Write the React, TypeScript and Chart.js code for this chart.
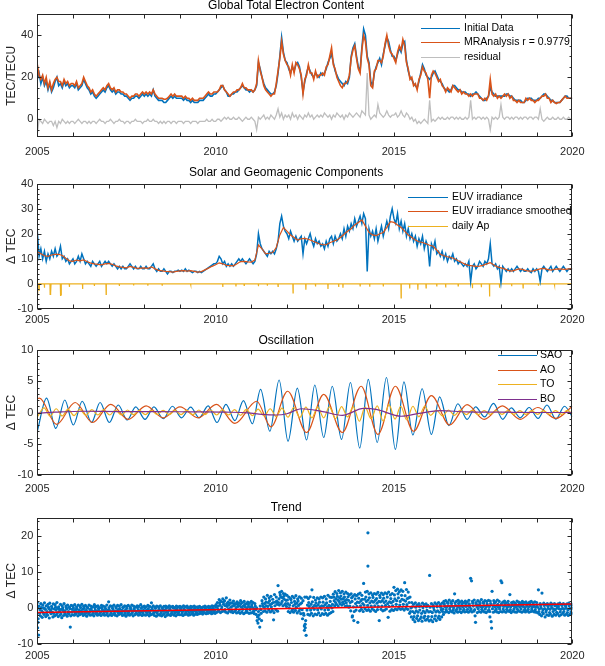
import React, { useEffect, useRef } from 'react';
import { Chart, registerables } from 'chart.js';

Chart.register(...registerables);

const FONT = '"Liberation Sans", Arial, Helvetica, sans-serif';
const BLUE = '#0072BD';
const ORANGE = '#D95319';
const YELLOW = '#EDB120';
const PURPLE = '#7E2F8E';
const GRAY = '#BEBEBE';
const RED = '#FF0000';
const AXIS = '#262626';

const START_YEAR = 2005;
const END_YEAR = 2020;
const yearTicks = [2005, 2006, 2007, 2008, 2009, 2010, 2011, 2012, 2013, 2014, 2015, 2016, 2017, 2018, 2019, 2020];

// ---------- Panel 1: Global Total Electron Content (samples every 0.05 yr) ----------
const tecInitial = [
  19, 22, 17, 20, 16, 18, 14, 17, 13, 15, 18, 20, 16, 17, 15, 18, 16, 17, 15, 16,
  16, 15, 17, 14, 15, 16, 19, 17, 15, 14, 12, 13, 11, 10, 11, 12, 13, 14, 13, 15,
  16, 14, 13, 14, 12, 13, 13, 12, 12, 11, 11, 10, 9, 10, 10, 11, 11, 10, 11, 12,
  11, 12, 11, 12, 11, 14, 11, 10, 9, 9, 9, 8, 8, 9, 10, 11, 10, 11, 10, 10,
  10, 10, 9, 10, 9, 9, 8, 9, 8, 8, 8, 9, 9, 9, 10, 11, 12, 11, 11, 12,
  12, 13, 14, 15, 16, 14, 13, 11, 11, 12, 12, 13, 13, 14, 15, 16, 15, 14, 14, 13,
  14, 13, 14, 16, 27, 24, 20, 17, 15, 14, 13, 12, 12, 13, 16, 22, 30, 39, 32, 28,
  27, 24, 22, 25, 23, 26, 27, 25, 20, 13, 18, 22, 25, 23, 21, 20, 22, 21, 20, 22,
  21, 22, 24, 27, 29, 31, 27, 23, 21, 19, 18, 17, 16, 18, 17, 20, 30, 34, 36, 30,
  25, 23, 34, 43, 40, 30, 27, 18, 16, 22, 25, 27, 29, 26, 31, 35, 39, 37, 33, 30,
  30, 28, 31, 34, 32, 36, 37, 28, 23, 20, 19, 17, 16, 15, 18, 22, 26, 24, 21, 20,
  19, 20, 22, 23, 21, 19, 18, 17, 15, 14, 14, 13, 14, 16, 16, 15, 14, 14, 13, 13,
  13, 12, 12, 11, 12, 12, 13, 12, 11, 10, 9, 9, 10, 11, 15, 13, 12, 11, 11, 11,
  11, 11, 11, 12, 12, 11, 11, 10, 9, 9, 9, 9, 8, 8, 9, 10, 10, 10, 9, 9,
  9, 10, 10, 11, 12, 12, 11, 10, 9, 9, 8, 8, 8, 8, 9, 10, 11, 11, 10, 10,
  10,
];
const tecMra = [
  26, 21, 19, 21, 17, 20, 15, 18, 14, 17, 19, 20, 18, 18, 16, 19, 17, 18, 16, 17,
  17, 16, 18, 15, 16, 17, 20, 18, 16, 15, 13, 14, 12, 11, 12, 13, 14, 15, 14, 16,
  17, 15, 14, 15, 13, 14, 14, 13, 13, 12, 12, 11, 10, 11, 11, 12, 12, 11, 12, 13,
  12, 13, 12, 13, 12, 14, 12, 11, 10, 10, 10, 9.5, 9.5, 10, 11, 12, 11, 12, 11, 11,
  11, 11, 10, 11, 10, 10, 9, 10, 9, 9, 9, 10, 10, 10, 11, 12, 13, 12, 12, 13,
  13, 13, 14, 16, 16, 14, 13, 12, 11, 12, 13, 13, 14, 14, 15, 17, 15, 15, 14, 14,
  14, 13, 14, 17, 28, 23, 20, 16, 14, 13, 12, 11, 12, 12, 17, 23, 29, 37, 31, 28,
  26, 25, 21, 26, 22, 27, 26, 24, 21, 12, 19, 21, 26, 22, 22, 19, 23, 20, 21, 21,
  22, 21, 25, 26, 30, 34, 26, 24, 20, 18, 16, 15, 17, 17, 18, 21, 29, 33, 35, 29,
  24, 22, 33, 40, 37, 29, 26, 16, 15, 23, 24, 28, 28, 27, 30, 36, 40, 35, 32, 31,
  29, 27, 32, 35, 33, 38, 35, 27, 24, 19, 20, 16, 17, 14, 19, 21, 25, 23, 22, 19,
  10, 21, 23, 22, 20, 18, 19, 16, 15, 13, 15, 14, 13, 16, 15, 14, 13, 14, 12, 13,
  12, 12, 11, 12, 11, 12, 12, 12, 10, 10, 9, 10, 9, 11, 19, 12, 11, 12, 10, 11,
  10, 11, 12, 11, 12, 10, 11, 9, 9, 8, 9, 8, 8, 8, 10, 9, 10, 9, 9, 8,
  9, 9, 10, 11, 11, 12, 10, 10, 8, 9, 8, 7.5, 8, 8, 9, 10, 11, 10, 10, 10,
  10,
];
const tecResidual = [
  -7, 0, -1, -2, 0, -1, -2, -1, -1, -3, -1, -4, -1, -2, 0, -1, -2, -1, -2, -1,
  -1, -2, -1, 0, -1, -2, -1, -1, -2, -1, -2, -1, -1, -2, -1, 0, -1, -1, -2, -1,
  -1, 0, -1, -2, -1, -1, 0, -1, -1, -2, -1, -1, -2, -1, -1, 0, -1, -1, -1, -2,
  -1, -1, 0, -1, -1, 0, -1, -1, -2, -1, -2, -1, -2, -1, -1, -2, -1, -1, -2, -1,
  -1, -1, -2, -1, -1, -1, -2, -1, -1, -1, -2, -1, -1, -1, -1, 0, -1, -1, 0, -1,
  -1, 0, 0, -1, 0, 1, 0, 1, 0, 0, 1, 0, 0, 1, 0, -1, 0, 1, 0, 0,
  1, 0, -1, -5, 1, 0, 1, 2, 0, 1, 0, 2, 1, 0, 2, 5, 1, 3, 0, 2,
  1, 2, 0, 3, 1, 2, 0, 2, 1, 0, 2, 1, 3, 1, 2, 0, 1, 2, 1, 2,
  1, 3, 2, 1, 2, 0, 2, 1, 3, 2, 1, 2, 0, 2, 1, 3, 2, 1, 2, 3,
  2, 1, 4, 3, 2, 22, 2, 0, 1, 2, 1, 7, 3, 2, 1, 2, 4, 2, 1, 2,
  2, 3, 1, 2, 4, 2, 1, 3, 2, 0, 1, -1, 0, -2, -1, -2, -1, 0, -1, -2,
  9, -1, 0, -1, 0, 1, 0, 1, 0, 0, 1, 0, 1, 1, 0, 1, 0, 1, 0, 0,
  1, 0, 1, 9, 0, 1, 0, 1, 1, 0, 1, 0, 1, 0, -5, 1, 0, 1, 0, 1,
  7, 1, 0, 1, 1, 0, 1, 0, 1, 1, 0, 1, 0, 1, 1, 0, 1, 1, 0, 1,
  1, 0, 5, 0, -1, 0, 1, 0, 0, 1, 0, 0, 1, 0, 0, 1, 0, 0, 1, 0,
  0,
];

// ---------- Panel 2: Solar and Geomagnetic components ----------
const euvIrradiance = [
  21, 11, 14, 10, 13, 9, 12, 10, 13, 11, 14, 11, 12, 15, 10, 11, 9, 10, 8, 9,
  10, 8, 9, 11, 9, 12, 10, 8, 9, 8, 7, 9, 8, 7, 8, 9, 7, 8, 9, 8,
  9, 8, 7, 8, 7, 6, 7, 6, 7, 6, 6, 7, 8, 7, 6, 7, 6, 6, 7, 6,
  6, 7, 6, 6, 7, 8, 6, 5, 6, 5, 5, 6, 5, 4, 5, 5, 4.5, 5, 5, 5.5,
  5, 5.5, 5, 6, 5, 5.5, 5, 4.5, 5, 5, 4.5, 5, 4.5, 5, 5.5, 6, 6.5, 7, 7.5, 8,
  8, 9, 11, 10, 8, 9, 7, 8, 7, 8, 7, 8, 9, 10, 9, 10, 9, 8, 9, 10,
  9, 8, 9, 12, 20, 16, 14, 13, 12, 11, 13, 12, 13, 12, 14, 17, 24, 27, 23, 21,
  20, 18, 21, 19, 17, 19, 17, 18, 19, 12, 18, 16, 18, 20, 17, 15, 18, 16, 17, 15,
  16, 14, 17, 15, 18, 19, 16, 19, 17, 18, 20, 18, 22, 19, 23, 21, 24, 22, 26, 23,
  25, 27, 24, 28, 26, 5, 22, 19, 21, 18, 22, 17, 20, 23, 19, 22, 25, 22, 27, 30,
  26, 24, 28, 22, 25, 21, 24, 19, 22, 18, 20, 17, 19, 15, 18, 16, 19, 14, 17, 15,
  7, 16, 14, 17, 12, 13, 11, 13, 10, 12, 9, 11, 10, 12, 9, 10, 8, 9, 8, 7,
  8, 7, 9, 1, 7, 8, 6, 7, 9, 8, 7, 9, 8, 10, 16, 8, 7, 8, 6, 7,
  0.5, 7, 6, 5, 6, 5, 6, 5, 6, 7, 6, 5, 6, 5, 5, 6, 5, 4.5, 6, 5,
  6, 5, 1, 6, 7, 6, 5, 6, 7, 5, 6, 7, 6, 5, 6, 7, 6, 5, 6, 6,
  6,
];
// smoothed EUV, every 0.1 yr
const euvSmoothed = [
  12.8, 12.0, 11.2, 11.0, 11.5, 11.8, 11.8, 11.3, 10.2, 9.2,
  9.0, 9.5, 9.2, 9.6, 8.8, 8.3, 8.0, 7.8, 7.6, 8.0,
  8.2, 7.8, 7.2, 6.8, 6.6, 6.4, 7.0, 6.6, 6.2, 6.3,
  6.4, 6.2, 6.8, 6.0, 5.4, 5.2, 5.0, 4.9, 4.7, 5.0,
  5.2, 5.3, 5.1, 5.3, 5.0, 4.7, 4.9, 5.6, 6.3, 7.0,
  7.6, 8.4, 8.0, 7.4, 7.3, 7.2, 8.0, 8.9, 9.0, 8.8,
  8.7, 9.5, 15.5, 14.0, 12.0, 12.2, 12.5, 14.5, 19.5, 22.5,
  21.0, 19.5, 18.5, 17.5, 18.0, 18.1, 17.8, 17.2, 16.6, 16.0,
  15.6, 15.6, 16.4, 17.0, 17.5, 18.5, 19.8, 21.0, 22.0, 23.5,
  24.5, 25.5, 23.0, 20.5, 19.5, 19.2, 20.0, 20.5, 22.5, 24.8,
  24.5, 23.5, 22.5, 21.0, 19.5, 18.5, 17.5, 16.8, 16.5, 16.0,
  15.4, 15.0, 13.5, 11.8, 11.2, 10.8, 10.5, 10.0, 9.2, 8.5,
  7.8, 7.4, 7.2, 7.0, 7.1, 7.4, 8.0, 8.5, 7.5, 6.8,
  6.4, 6.0, 5.4, 5.1, 5.5, 6.0, 5.8, 5.3, 5.1, 5.2,
  5.6, 6.0, 6.2, 5.8, 5.5, 5.8, 6.0, 5.9, 5.8, 6.0,
  6.0,
];
const apSpikeYears = [
  2005.01, 2005.05, 2005.2, 2005.36, 2005.38, 2005.65, 2005.67, 2005.9, 2006.27, 2006.6,
  2006.93, 2007.3, 2007.7, 2008.1, 2008.5, 2009.3, 2010.2, 2010.57, 2010.8, 2011.2,
  2011.45, 2011.75, 2012.17, 2012.53, 2012.8, 2013.15, 2013.45, 2013.57, 2014.05, 2014.32,
  2014.7, 2015.2, 2015.44, 2015.67, 2015.9, 2016.2, 2016.45, 2016.8, 2017.2, 2017.45,
  2017.68, 2017.96, 2018.3, 2018.62, 2019.05, 2019.5,
];
const apSpikeValues = [
  -4.5, -2.5, -1.5, -4.2, -3.5, -4.8, -4.6, -1.2, -2.0, -0.8,
  -4.2, -0.8, -0.6, -0.7, -0.5, -0.4, -1.2, -1.0, -0.6, -0.9,
  -0.7, -1.0, -3.6, -2.3, -1.0, -2.0, -1.2, -1.5, -0.8, -1.1,
  -1.0, -5.6, -1.8, -2.3, -1.6, -1.0, -1.4, -0.8, -1.7, -1.3,
  -5.0, -1.5, -0.9, -1.6, -0.7, -0.5,
];

// ---------- Panel 3: Oscillation (extrema of each component) ----------
const saoYears = [
  2005.00, 2005.26, 2005.52, 2005.77, 2006.01, 2006.26, 2006.52, 2006.76, 2007.02, 2007.27,
  2007.52, 2007.76, 2008.02, 2008.27, 2008.53, 2008.79, 2009.04, 2009.30, 2009.54, 2009.79,
  2010.04, 2010.29, 2010.54, 2010.78, 2011.03, 2011.26, 2011.52, 2011.78, 2012.03, 2012.29,
  2012.55, 2012.78, 2013.03, 2013.27, 2013.53, 2013.78, 2014.04, 2014.28, 2014.53, 2014.79,
  2015.04, 2015.28, 2015.53, 2015.79, 2016.05, 2016.28, 2016.54, 2016.79, 2017.05, 2017.29,
  2017.54, 2017.79, 2018.05, 2018.29, 2018.54, 2018.79, 2019.04, 2019.29, 2019.54, 2019.78,
  2020.00,
];
const saoValues = [
  -3.0, 2.3, -2.55, 2.0, -2.0, 1.8, -1.6, 1.6, -1.6, 1.2,
  -1.2, 0.9, -1.1, 0.9, -1.0, 1.0, -0.85, 0.85, -0.85, 1.06,
  -1.6, 1.3, -1.3, 1.9, -1.8, 3.7, -3.0, 5.2, -4.6, 3.9,
  -4.4, 4.4, -4.0, 4.2, -4.3, 4.8, -5.7, 5.3, -4.8, 5.6,
  -5.9, 4.9, -3.6, 3.8, -3.5, 2.5, -2.1, 1.4, -1.1, 0.9,
  -0.7, 1.45, -1.1, 0.75, -0.85, 0.8, -0.95, 1.2, -1.06, 1.0,
  -0.7,
];
const aoYears = [
  2005.00, 2005.06, 2005.54, 2006.06, 2006.55, 2007.06, 2007.55, 2008.05, 2008.53, 2009.00,
  2009.51, 2010.02, 2010.54, 2011.15, 2011.55, 2012.02, 2012.55, 2013.03, 2013.55, 2014.08,
  2014.55, 2015.04, 2015.55, 2016.05, 2016.56, 2017.05, 2017.53, 2018.04, 2018.54, 2019.03,
  2019.54, 2020.00,
];
const aoValues = [
  2.2, 2.3, -1.9, 1.6, -1.6, 1.3, -1.1, 1.06, -0.85, 0.9,
  -0.85, 1.3, -1.75, 1.8, -2.3, 3.4, -3.2, 2.9, -3.2, 4.2,
  -3.5, 4.2, -3.0, 2.7, -2.0, 1.25, -1.1, 1.05, -1.1, 0.8,
  -0.95, 1.0,
];
const toYears = [
  2005.00, 2005.19, 2005.36, 2005.53, 2005.70, 2005.86,
  2006.03, 2006.19, 2006.36, 2006.53, 2006.70, 2006.86,
  2007.03, 2007.19, 2007.36, 2007.53, 2007.70, 2007.86,
  2008.03, 2008.19, 2008.36, 2008.53, 2008.70, 2008.86,
  2009.03, 2009.19, 2009.36, 2009.53, 2009.70, 2009.86,
  2010.03, 2010.19, 2010.36, 2010.53, 2010.70, 2010.86,
  2011.03, 2011.19, 2011.36, 2011.53, 2011.70, 2011.86,
  2012.03, 2012.19, 2012.36, 2012.53, 2012.70, 2012.86,
  2013.03, 2013.19, 2013.36, 2013.53, 2013.70, 2013.86,
  2014.03, 2014.19, 2014.36, 2014.53, 2014.70, 2014.86,
  2015.03, 2015.19, 2015.36, 2015.53, 2015.70, 2015.86,
  2016.03, 2016.19, 2016.36, 2016.53, 2016.70, 2016.86,
  2017.03, 2017.19, 2017.36, 2017.53, 2017.70, 2017.86,
  2018.03, 2018.19, 2018.36, 2018.53, 2018.70, 2018.86,
  2019.03, 2019.19, 2019.36, 2019.53, 2019.70, 2019.86,
  2020.00,
];
const toValues = [
  -0.7, 0.75, -0.6, 0.6, -0.55, 0.55,
  -0.5, 0.5, -0.45, 0.45, -0.4, 0.45,
  -0.4, 0.4, -0.4, 0.4, -0.35, 0.35,
  -0.35, 0.35, -0.3, 0.35, -0.35, 0.35,
  -0.35, 0.35, -0.35, 0.4, -0.35, 0.4,
  -0.4, 0.45, -0.4, 0.45, -0.45, 0.5,
  -0.5, 0.55, -0.55, 0.6, -0.65, 0.7,
  -0.75, 0.8, -0.8, 0.85, -0.85, 0.9,
  -0.85, 0.9, -1.0, 0.95, -0.7, 0.95,
  -1.4, 0.85, -1.0, 1.05, -1.4, 1.25,
  -1.05, 1.0, -1.2, 1.0, -0.7, 1.0,
  -0.45, 0.4, -0.55, 0.4, -0.45, 0.4,
  -0.35, 0.35, -0.35, 0.3, -0.3, 0.3,
  -0.3, 0.3, -0.3, 0.3, -0.3, 0.3,
  -0.3, 0.3, -0.3, 0.3, -0.3, 0.35,
  -0.2,
];
const boYears = [
  2005.0, 2005.5, 2006.3, 2007.3, 2008.3, 2009.3, 2010.3, 2010.9, 2011.3, 2011.7,
  2012.0, 2012.4, 2013.0, 2013.55, 2014.15, 2014.5, 2015.2, 2015.7, 2016.3, 2017.0,
  2018.0, 2019.0, 2020.0,
];
const boValues = [
  -0.1, 0.05, 0.2, 0.15, 0.15, 0.1, 0.05, -0.05, -0.3, -0.4,
  -0.2, 0.6, 0.15, -0.45, 0.65, 0.5, -0.6, -0.15, 0.3, 0.1,
  0.05, 0.0, 0.0,
];

// ---------- Panel 4: Trend (four daily samples per 0.05-yr bin) ----------
const trendUpper = [
  1.5, 0.5, 1.2, 0.8, 1.4, 0.6, 1.0, 1.3, 0.4, 1.1, 0.9, 1.5, 0.3, 1.0, 0.6, 1.2, 0.5, 0.8, 0.2, 0.7,
  0.6, 0.9, 0.3, 0.8, 0.5, 1.0, 0.4, 0.7, 0.2, 0.8, 0.5, 0.3, 0.9, 0.4, 0.6, 0.1, 0.7, 0.5, 0.3, 0.8,
  1.7, 0.6, 0.4, 0.8, 0.3, 0.7, 0.5, 0.9, 0.2, 0.6, 0.4, 0.7, 0.3, 0.8, 0.5, 0.2, 0.6, 0.4, 0.9, 0.3,
  0.5, 0.3, 0.7, 0.4, 1.4, 0.6, 0.2, 0.5, 0.3, 0.6, 0.1, 0.4, 0.5, 0.2, 0.6, 0.3, 0.4, 0.1, 0.5, 0.3,
  0.4, 0.2, 0.6, 0.3, 0.5, 0.1, 0.4, 0.3, 0.5, 0.2, 0.3, 0.4, 0.1, 0.3, 0.5, 0.2, 0.4, 0.3, 0.6, 0.4,
  0.6, 1.5, 2.3, 1.8, 2.5, 2.0, 2.8, 1.6, 2.2, 1.4, 1.9, 1.2, 1.7, 1.3, 2.0, 1.5, 1.8, 1.1, 1.6, 1.4,
  1.8, 1.5, 1.2, 0.0, -1.0, 0.5, 2.0, 3.0, 2.5, 3.5, 2.8, 3.2, 2.4, 3.7, 3.0, 6.2, 4.3, 4.6, 4.0, 3.8,
  3.5, 3.0, 2.6, 3.2, 2.8, 3.4, 2.5, 3.1, 2.7, 2.0, 3.0, 3.0, 2.6, 3.1, 5.0, 2.9, 2.2, 2.8, 2.5, 3.0,
  2.8, 3.2, 2.5, 3.5, 3.0, 2.9, 3.8, 4.5, 4.0, 4.8, 4.2, 4.6, 3.9, 4.4, 4.0, 3.6, 3.9, 3.2, 3.7, 3.4,
  3.8, 4.1, 3.5, 6.8, 4.4, 4.6, 3.9, 4.2, 3.6, 4.0, 3.8, 4.3, 3.5, 4.1, 3.7, 4.2, 3.9, 4.4, 3.6, 4.0,
  5.7, 4.8, 5.2, 4.5, 5.0, 4.6, 7.0, 5.1, 4.4, 3.0, 1.5, 1.0, 1.4, 0.8, 1.2, 0.6, 1.3, 0.9, 1.1, 0.7,
  9.0, 1.2, 0.8, 1.4, 1.0, 1.5, 0.9, 1.3, 1.8, 2.0, 1.6, 2.2, 1.7, 2.0, 3.9, 1.8, 2.1, 1.6, 1.9, 1.5,
  1.9, 1.6, 2.1, 8.2, 1.8, 2.2, 1.5, 2.0, 1.7, 2.3, 1.6, 2.0, 1.8, 2.1, 1.9, 4.6, 2.0, 1.7, 2.2, 1.8,
  7.5, 1.6, 1.9, 1.4, 1.8, 3.7, 1.5, 1.7, 1.3, 1.9, 1.6, 1.4, 1.8, 1.5, 1.7, 1.2, 1.6, 1.8, 1.4, 1.7,
  1.5, 5.0, 1.2, 4.1, 1.3, 0.9, 1.2, 0.8, 1.3, 1.0, 1.2, 0.7, 1.1, 1.3, 0.9, 1.2, 0.8, 1.1, 1.3, 1.0,
  1.0,
];
const trendMiddle = [
  -3.0, -0.5, -0.8, 0.0, -0.4, -1.0, -0.2, -0.7, -1.2, -0.3, -0.6, -0.1, -0.9, -0.4, -0.7, -0.8, -0.3, -1.0, -5.3, -0.4,
  -0.8, -0.5, -1.1, -0.6, -0.9, -0.4, -1.0, -0.7, -1.2, -0.5, -0.8, -1.0, -0.6, -0.9, -0.7, -1.1, -0.5, -0.8, -1.0, -0.6,
  -0.7, -1.0, -0.6, -0.9, -0.8, -0.5, -1.1, -0.7, -0.9, -0.6, -1.0, -0.8, -0.5, -0.9, -0.7, -1.0, -0.6, -0.8, -1.1, -0.7,
  -0.8, -0.6, -1.0, -0.7, -0.5, -0.9, -1.1, -0.8, -0.6, -1.0, -0.9, -0.7, -1.2, -0.8, -0.6, -1.0, -0.9, -0.7, -1.1, -0.8,
  -0.7, -0.9, -0.6, -1.0, -0.8, -0.5, -0.9, -0.7, -0.8, -0.6, -0.7, -0.5, -0.8, -0.6, -0.5, -0.7, -0.6, -0.4, -0.7, -0.5,
  0.2, 0.5, 0.8, 0.3, 1.0, 0.6, 0.4, 0.9, 0.2, 0.5, 0.7, 0.1, 0.4, 0.6, 0.2, 0.5, 0.3, 0.0, 0.4, 0.2,
  0.2, -0.2, -0.5, -2.5, -3.0, -1.5, 0.5, 1.2, 0.6, 1.5, 0.9, 1.2, -3.3, 1.6, 1.0, 2.5, 3.0, 2.8, 2.4, 2.1,
  1.2, 0.8, 1.5, 0.6, 1.0, 1.3, 0.7, 1.1, -0.5, -2.0, -3.5, 0.8, 0.4, 1.0, 0.2, 0.7, 0.5, 0.9, 0.3, 0.6,
  0.5, 0.9, 0.2, 0.7, 0.4, 1.0, 2.0, 2.6, 2.2, 2.8, 2.4, 2.6, 2.0, 2.3, 2.1, 1.5, 1.8, -3.5, 1.2, 1.6,
  1.5, 2.0, 1.2, 2.4, 1.8, 2.2, 1.4, 1.9, 1.6, 2.1, 1.3, 1.8, 1.7, 2.0, 1.5, 1.9, 1.2, 1.7, 1.4, 1.8,
  2.5, 2.0, 2.8, 1.8, 2.4, 2.2, 1.9, 2.6, 1.5, 0.0, -1.0, -1.4, -0.8, -1.2, -0.6, -1.5, -0.9, -1.3, -0.7, -1.1,
  -1.0, -1.3, -0.6, -1.1, -0.8, -1.2, -0.5, -0.3, 0.4, 0.2, 0.6, 0.3, 0.5, 0.1, 0.7, 0.4, 0.2, 0.6, 0.3, 0.5,
  0.4, 0.6, 0.2, 7.5, 0.5, -2.2, 0.3, 0.7, 0.4, 0.2, 0.6, 0.3, 0.5, 0.4, -3.8, 0.6, 0.3, 0.5, 0.2, 0.4,
  7.0, 0.4, 0.6, 0.2, 0.5, 0.3, 0.7, 0.4, 0.2, 0.6, 0.3, 0.5, 0.4, 0.1, 0.5, 0.3, 0.6, 0.2, 0.4, 0.3,
  0.2, -0.3, 0.0, -0.5, -0.2, -0.6, -0.1, -0.4, 0.1, -0.3, -0.5, 0.0, -0.2, -0.4, -0.1, -0.3, 0.0, -0.5, -0.2, -0.1,
  -0.2,
];
const trendLower = [
  -7.5, -2.2, -2.6, -1.8, -2.4, -2.0, -2.8, -1.6, -2.5, -2.2, -1.9, -2.4, -2.0, -2.7, -2.1, -1.8, -2.3, -1.7, -2.2, -1.9,
  -2.0, -1.7, -2.2, -1.9, -1.6, -2.1, -1.8, -2.3, -1.7, -2.0, -1.9, -2.2, -1.6, -2.0, -1.8, -2.1, -1.7, -2.0, -1.9, -2.2,
  -1.9, -2.1, -1.7, -2.0, -2.2, -1.8, -1.6, -2.1, -1.9, -2.3, -1.8, -2.0, -1.7, -2.2, -1.9, -1.6, -2.0, -1.8, -2.1, -1.9,
  -2.0, -1.8, -2.2, -1.9, -1.7, -2.1, -2.3, -1.9, -2.0, -2.2, -1.8, -2.4, -2.0, -1.9, -2.1, -1.7, -2.0, -2.2, -1.8, -1.9,
  -1.9, -2.1, -1.8, -1.7, -2.0, -1.9, -1.6, -2.0, -1.7, -1.8, -1.6, -1.5, -1.7, -1.4, -1.6, -1.5, -1.3, -1.6, -1.4, -1.5,
  -1.2, -0.9, -1.3, -1.0, -0.8, -1.2, -1.4, -0.9, -1.1, -1.3, -1.0, -1.4, -1.2, -1.5, -1.1, -1.6, -1.3, -1.2, -1.5, -1.4,
  -1.3, -1.6, -1.8, -4.2, -5.3, -3.5, -1.0, -0.8, -1.2, -0.6, -1.1, -0.7, -1.3, -0.5, -0.9, 0.8, 1.2, 0.6, 0.9, 0.4,
  -1.0, -1.3, -0.8, -1.2, -0.7, -1.4, -0.9, -1.6, -3.0, -5.0, -7.6, -1.8, -2.0, -1.5, -2.2, -1.7, -1.9, -1.4, -2.1, -1.6,
  -1.8, -1.5, -2.0, -1.6, -1.3, -1.0, 0.6, 1.0, 0.5, 1.2, 0.8, 1.1, 0.4, 0.6, 0.2, -0.8, -2.2, -1.0, -0.6, -4.0,
  -0.8, -0.4, -1.0, -0.2, -0.7, -0.5, -0.9, -0.3, -0.6, -1.0, -0.5, -3.5, -0.4, -0.8, -0.6, -0.3, -2.6, -0.9, -0.5, -0.7,
  -0.3, -0.5, 0.0, -0.4, -0.2, -0.6, -0.1, -0.4, -1.5, -2.5, -3.2, -3.8, -2.9, -3.5, -3.0, -3.7, -2.8, -3.4, -3.1, -3.6,
  -3.3, -3.8, -3.0, -3.5, -2.8, -3.2, -2.5, -1.8, -1.2, -1.0, -1.3, -0.9, -1.1, -1.4, -0.8, -1.2, -1.0, -1.3, -0.9, -1.1,
  -1.0, -1.2, -0.8, -1.1, -0.9, -4.0, -1.3, -1.0, -1.2, -0.8, -1.1, -1.3, -0.9, -1.0, -5.6, -1.2, -0.9, -1.1, -1.3, -1.0,
  -1.1, -0.9, -1.2, -0.8, -1.0, -1.3, -0.9, -1.1, -1.2, -0.8, -1.0, -1.2, -0.9, -1.1, -0.8, -1.2, -1.0, -0.9, -1.1, -1.2,
  -1.4, -1.8, -2.2, -1.6, -2.5, -1.9, -2.1, -1.7, -2.3, -1.8, -2.0, -1.6, -2.2, -1.9, -1.5, -2.0, -1.7, -2.1, -1.8, -1.6,
  -1.5,
];
const trendFill = [
  0.3, -1.5, 0.1, -1.3, -0.2, -1.6, 0.2, -1.2, -0.1, -1.5, 0.2, -1.4, -0.3, -1.6, 0.0, -1.3, 0.1, -1.5, -0.2, -1.2,
  0.0, -1.4, -0.2, -1.3, 0.1, -1.5, -0.1, -1.4, 0.0, -1.3, -0.2, -1.5, 0.1, -1.4, -0.1, -1.3, 0.0, -1.5, -0.2, -1.4,
  0.1, -1.4, -0.1, -1.5, 0.0, -1.3, -0.2, -1.4, 0.1, -1.5, -0.1, -1.3, 0.0, -1.4, -0.2, -1.5, 0.1, -1.3, -0.1, -1.4,
  0.0, -1.3, -0.2, -1.5, 0.1, -1.4, -0.1, -1.4, 0.0, -1.5, -0.3, -1.6, -0.1, -1.4, -0.2, -1.5, 0.0, -1.4, -0.2, -1.3,
  -0.1, -1.4, -0.2, -1.3, 0.0, -1.3, -0.2, -1.4, -0.1, -1.2, -0.2, -1.1, -0.1, -1.2, 0.0, -1.0, -0.2, -1.1, -0.1, -1.0,
  0.9, -0.4, 1.4, -0.3, 1.6, -0.5, 1.2, -0.3, 1.3, -0.6, 1.1, -0.5, 1.0, -0.6, 1.2, -0.4, 0.9, -0.7, 1.0, -0.5,
  0.9, -0.9, 0.5, -3.5, -2.0, -0.5, 1.2, 0.2, 1.6, 0.4, 2.0, 0.3, 1.5, 0.6, 1.9, 1.5, 3.6, 1.8, 3.2, 1.2,
  2.2, 0.0, 2.3, -0.4, 1.8, 0.2, 1.9, -0.3, 1.4, -1.5, -5.5, -0.6, 1.5, -0.6, 1.7, -0.4, 1.4, -0.5, 1.6, -0.3,
  1.6, -0.6, 1.4, -0.5, 1.8, 0.0, 3.0, 1.5, 3.2, 1.8, 3.3, 1.6, 3.0, 1.4, 3.1, 0.5, 2.8, 0.3, 2.5, 0.4,
  2.7, 0.6, 2.4, 0.8, 3.0, 0.7, 2.8, 0.5, 2.9, 0.6, 2.6, 0.4, 2.9, 0.5, 2.7, 0.7, 3.0, 0.4, 2.6, 0.6,
  3.6, 1.0, 3.9, 0.8, 3.5, 1.0, 3.4, 0.9, 2.8, -1.0, 0.3, -2.4, 0.2, -2.2, 0.4, -2.5, 0.1, -2.3, 0.3, -2.4,
  0.2, -2.4, 0.1, -2.2, 0.3, -2.3, 0.2, -1.0, 1.1, -0.5, 1.3, -0.3, 1.2, -0.5, 1.4, -0.4, 1.2, -0.3, 1.1, -0.4,
  1.2, -0.4, 1.1, -0.3, 1.3, -0.5, 1.0, -0.2, 1.2, -0.4, 1.3, -0.3, 1.1, -0.5, 1.2, -0.2, 1.3, -0.4, 1.0, -0.3,
  1.1, -0.3, 1.2, -0.4, 1.0, -0.5, 1.2, -0.3, 0.9, -0.4, 1.1, -0.3, 1.2, -0.5, 1.0, -0.4, 1.1, -0.3, 0.9, -0.5,
  0.8, -1.0, 0.6, -1.2, 0.7, -1.1, 0.5, -1.3, 0.7, -1.0, 0.6, -1.2, 0.5, -1.1, 0.7, -1.0, 0.5, -1.3, 0.6, -1.1,
  0.4,
];
const trendOutlierYears = [2005.01, 2005.02, 2012.49, 2012.51, 2014.27, 2014.27, 2013.83, 2017.69];
const trendOutlierValues = [-5.5, -4.0, -6.2, -4.5, 20.8, 11.6, -2.5, -2.5];
const trendLineYears = [2005, 2020];
const trendLineValues = [-1.3, 1.1];

// ---------- helpers that turn the arrays into {x,y} points ----------
const regular = (vals: number[], perYear: number, dayShift = 0) =>
  vals.map((y, i) => ({ x: START_YEAR + i / perYear + dayShift / 365, y }));
const pairs = (xs: number[], ys: number[]) => xs.map((x, i) => ({ x, y: ys[i] }));
const spikes = (xs: number[], ys: number[]) => {
  const pts: { x: number; y: number }[] = [{ x: START_YEAR, y: 0 }];
  xs.forEach((x, i) => {
    pts.push({ x: x - 0.005, y: 0 }, { x, y: ys[i] }, { x: x + 0.005, y: 0 });
  });
  pts.push({ x: END_YEAR, y: 0 });
  return pts;
};

const lineDs = (label: string, data: any[], color: string, order: number, extra: any = {}) => ({
  label,
  data,
  borderColor: color,
  backgroundColor: color,
  borderWidth: 1,
  pointRadius: 0,
  fill: false,
  tension: 0,
  order,
  ...extra,
});
const dotDs = (label: string, data: any[], order: number) => ({
  label,
  data,
  showLine: false,
  pointRadius: 1.6,
  pointBorderWidth: 0,
  pointBackgroundColor: BLUE,
  backgroundColor: BLUE,
  borderColor: BLUE,
  order,
});

const PANELS: any[] = [
  {
    key: 'p1', top: 0, height: 165, areaTop: 14.3, areaBottom: 137.3, titleCenter: 6, xPad: 7.7,
    title: 'Global Total Electron Content', yTitle: 'TEC/TECU',
    yMin: -8.6, yMax: 50, yStep: 20, yMinor: 5,
    legend: { x1: 421, x2: 460, tx: 464, rows: [13.4, 28, 42.4] },
    legendItems: [
      { label: 'Initial Data', color: BLUE },
      { label: 'MRAnalysis r = 0.9779', color: ORANGE },
      { label: 'residual', color: GRAY },
    ],
    datasets: [
      lineDs('MRAnalysis r = 0.9779', regular(tecMra, 20), ORANGE, 1, { borderWidth: 1.6 }),
      lineDs('Initial Data', regular(tecInitial, 20), BLUE, 2, { borderWidth: 1.6 }),
      lineDs('residual', regular(tecResidual, 20), GRAY, 3, { borderWidth: 1.3 }),
    ],
  },
  {
    key: 'p2', top: 165, height: 168, areaTop: 183.5, areaBottom: 309, titleCenter: 172.5, xPad: 4.8,
    title: 'Solar and Geomagenic Components', yTitle: 'Δ TEC',
    yMin: -10, yMax: 40, yStep: 10, yMinor: 2,
    legend: { x1: 408, x2: 448, tx: 452, rows: [13.8, 27.5, 42.5] },
    legendItems: [
      { label: 'EUV irradiance', color: BLUE },
      { label: 'EUV irradiance smoothed', color: ORANGE },
      { label: 'daily Ap', color: YELLOW },
    ],
    datasets: [
      lineDs('EUV irradiance smoothed', regular(euvSmoothed, 10), ORANGE, 1, { borderWidth: 1.2 }),
      lineDs('EUV irradiance', regular(euvIrradiance, 20), BLUE, 2, { borderWidth: 1.5 }),
      lineDs('daily Ap', spikes(apSpikeYears, apSpikeValues), YELLOW, 3, { borderWidth: 1.2 }),
    ],
  },
  {
    key: 'p3', top: 330, height: 170, areaTop: 350, areaBottom: 475, titleCenter: 340.5, xPad: 7.1,
    title: 'Oscillation', yTitle: 'Δ TEC',
    yMin: -10, yMax: 10, yStep: 5, yMinor: 1,
    legend: { x1: 498, x2: 537, tx: 540, rows: [5, 20, 34.3, 49.3] },
    legendItems: [
      { label: 'SAO', color: BLUE },
      { label: 'AO', color: ORANGE },
      { label: 'TO', color: YELLOW },
      { label: 'BO', color: PURPLE },
    ],
    datasets: [
      lineDs('BO', pairs(boYears, boValues), PURPLE, 0, { cubicInterpolationMode: 'monotone', borderWidth: 1.2 }),
      lineDs('TO', pairs(toYears, toValues), YELLOW, 1, { cubicInterpolationMode: 'monotone', borderWidth: 1.2 }),
      lineDs('AO', pairs(aoYears, aoValues), ORANGE, 2, { cubicInterpolationMode: 'monotone', borderWidth: 1.2 }),
      lineDs('SAO', pairs(saoYears, saoValues), BLUE, 3, { cubicInterpolationMode: 'monotone', borderWidth: 1.2 }),
    ],
  },
  {
    key: 'p4', top: 495, height: 171, areaTop: 517.7, areaBottom: 644, titleCenter: 508, xPad: 5.1,
    title: 'Trend', yTitle: 'Δ TEC',
    yMin: -10, yMax: 25, yStep: 10, yMinor: 2,
    legend: null,
    legendItems: [],
    datasets: [
      lineDs('trend', pairs(trendLineYears, trendLineValues), RED, 0, { borderWidth: 1.5 }),
      dotDs('detrended A', regular(trendUpper, 20, 0), 1),
      dotDs('detrended B', regular(trendMiddle, 20, 9), 2),
      dotDs('detrended C', regular(trendLower, 20, 13.5), 3),
      dotDs('detrended D', regular(trendFill, 20, 4.5), 4),
      dotDs('outliers', pairs(trendOutlierYears, trendOutlierValues), 5),
    ],
  },
];

function axesPlugin(panel: any) {
  return {
    id: 'matlabAxes_' + panel.key,
    afterDraw(chart: any) {
      const { ctx, chartArea: a } = chart;
      const xs = chart.scales.x;
      const ys = chart.scales.y;
      const L = Math.round(a.left) + 0.5;
      const R = Math.round(a.right) - 0.5;
      const T = Math.round(a.top) + 0.5;
      const B = Math.round(a.bottom) - 0.5;
      ctx.save();
      ctx.strokeStyle = AXIS;
      ctx.lineWidth = 1;
      ctx.beginPath();
      yearTicks.forEach((v) => {
        const px = Math.round(xs.getPixelForValue(v)) + 0.5;
        ctx.moveTo(px, B);
        ctx.lineTo(px, B - 4);
        ctx.moveTo(px, T);
        ctx.lineTo(px, T + 4);
      });
      const n0 = Math.ceil(panel.yMin / panel.yMinor);
      const n1 = Math.floor(panel.yMax / panel.yMinor);
      for (let n = n0; n <= n1; n++) {
        const v = n * panel.yMinor;
        const major = Math.abs(v / panel.yStep - Math.round(v / panel.yStep)) < 1e-6;
        const len = major ? 4 : 2;
        const py = Math.round(ys.getPixelForValue(v)) + 0.5;
        ctx.moveTo(L, py);
        ctx.lineTo(L + len, py);
        ctx.moveTo(R, py);
        ctx.lineTo(R - len, py);
      }
      ctx.stroke();
      ctx.strokeRect(L, T, R - L, B - T);
      if (panel.legend) {
        const lg = panel.legend;
        ctx.font = '10.5px ' + FONT;
        ctx.textBaseline = 'middle';
        ctx.textAlign = 'left';
        panel.legendItems.forEach((it: any, i: number) => {
          const y = Math.round(a.top + lg.rows[i]) + 0.5;
          ctx.strokeStyle = it.color;
          ctx.lineWidth = 1.2;
          ctx.beginPath();
          ctx.moveTo(lg.x1, y);
          ctx.lineTo(lg.x2, y);
          ctx.stroke();
          ctx.fillStyle = '#000';
          ctx.fillText(it.label, lg.tx, y);
        });
      }
      ctx.restore();
    },
  };
}

function buildConfig(panel: any): any {
  const padTop = panel.titleCenter - panel.top - 6;
  const padBottom = panel.areaTop - panel.top - padTop - 12;
  const xHeight = panel.height - (panel.areaBottom - panel.top);
  return {
    type: 'line',
    data: { datasets: panel.datasets },
    options: {
      responsive: false,
      maintainAspectRatio: false,
      animation: false,
      events: [],
      layout: { padding: { left: 0, right: 605 - 572.3, top: 0, bottom: 0 } },
      plugins: {
        legend: { display: false },
        tooltip: { enabled: false },
        title: {
          display: true,
          text: panel.title,
          color: '#000',
          font: { family: FONT, size: 12, weight: 'normal', lineHeight: 1 },
          padding: { top: padTop, bottom: padBottom },
        },
      },
      scales: {
        x: {
          type: 'linear',
          min: START_YEAR,
          max: END_YEAR,
          grid: { display: false, drawTicks: false },
          border: { display: false },
          ticks: {
            stepSize: 5,
            autoSkip: false,
            maxRotation: 0,
            padding: panel.xPad,
            color: AXIS,
            font: { family: FONT, size: 11 },
            callback: (v: any) => String(v),
          },
          afterFit: (s: any) => {
            s.height = xHeight;
          },
        },
        y: {
          type: 'linear',
          min: panel.yMin,
          max: panel.yMax,
          grid: { display: false, drawTicks: false },
          border: { display: false },
          ticks: {
            stepSize: panel.yStep,
            includeBounds: false,
            autoSkip: false,
            padding: 4,
            color: AXIS,
            font: { family: FONT, size: 11 },
            callback: (v: any) => String(v),
          },
          title: {
            display: true,
            text: panel.yTitle,
            color: AXIS,
            font: { family: FONT, size: 12 },
            padding: { top: 4.8, bottom: 0 },
          },
          afterFit: (s: any) => {
            s.width = 37.3;
          },
        },
      },
    },
    plugins: [axesPlugin(panel)],
  };
}

function PanelCanvas({ panel }: { panel: any }) {
  const ref = useRef<HTMLCanvasElement | null>(null);
  useEffect(() => {
    if (!ref.current) return;
    const chart = new Chart(ref.current, buildConfig(panel));
    return () => chart.destroy();
  }, [panel]);
  return (
    <canvas
      ref={ref}
      width={605}
      height={panel.height}
      style={{ position: 'absolute', left: 0, top: panel.top, width: 605, height: panel.height, display: 'block' }}
    />
  );
}

export default function App() {
  return (
    <div style={{ position: 'fixed', left: 0, top: 0, width: 605, height: 666, background: '#fff', overflow: 'hidden' }}>
      {PANELS.map((p) => (
        <PanelCanvas key={p.key} panel={p} />
      ))}
    </div>
  );
}
